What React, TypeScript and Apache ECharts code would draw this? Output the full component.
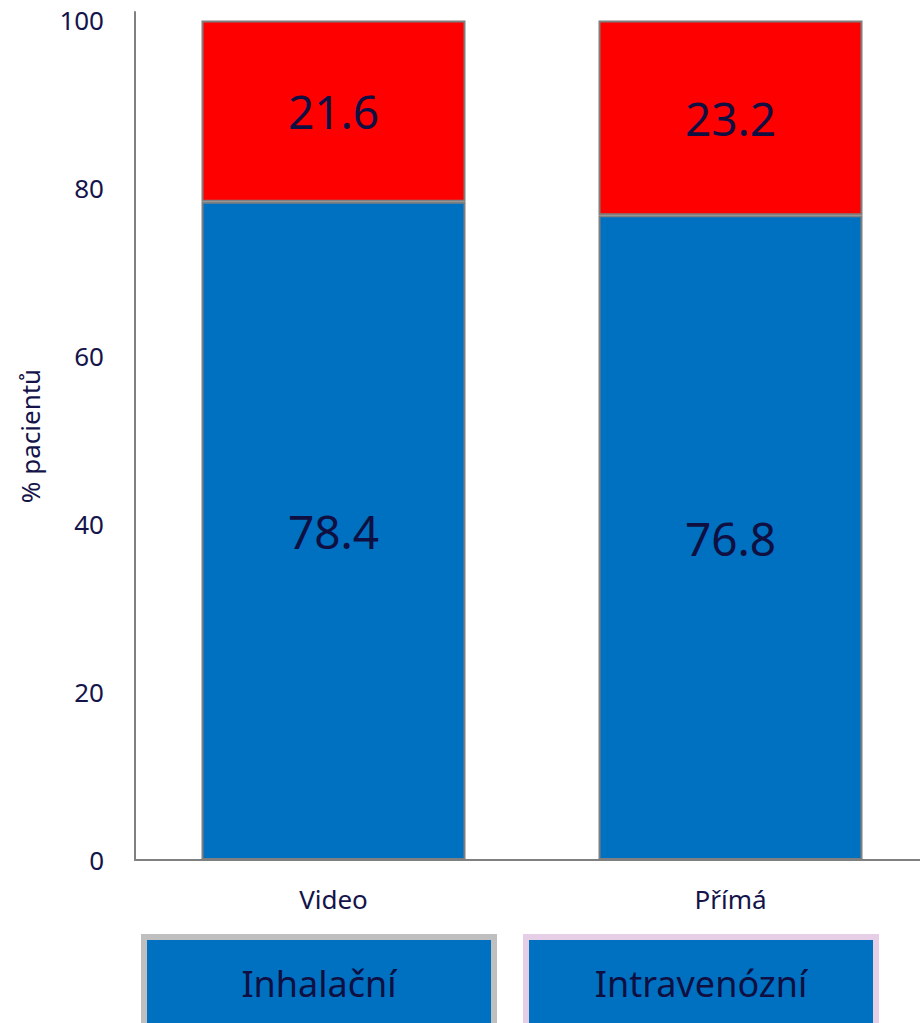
import React, { useEffect, useRef } from "react";
import * as echarts from "echarts";

const categories = ["Video", "Přímá"];
const inhalacni = [78.4, 76.8];
const intravenozni = [21.6, 23.2];
const yTicks = [0, 20, 40, 60, 80, 100];
const legendNames = ["Inhalační", "Intravenózní"];

const FONT = "'Noto Sans', 'Open Sans', sans-serif";
const TXT = "#14144a";

export default function App() {
  const ref = useRef<HTMLDivElement>(null);
  useEffect(() => {
    if (!ref.current) return;
    const chart = echarts.init(ref.current, null, { renderer: "svg" });
    const label = {
      show: true,
      position: "inside" as const,
      fontSize: 46,
      color: "#0f0f42",
      fontFamily: FONT,
      formatter: (p: any) => p.value.toFixed(1),
    };
    chart.setOption({
      animation: false,
      grid: { left: 135, right: 0, top: 12, bottom: 163 },
      xAxis: {
        type: "category",
        data: categories,
        axisLine: { lineStyle: { color: "#808080", width: 2 } },
        axisTick: { show: false },
        axisLabel: { fontSize: 26, color: TXT, fontFamily: FONT, margin: 26 },
      },
      yAxis: {
        type: "value",
        min: 0,
        max: 101,
        interval: 20,
        name: "% pacientů",
        nameLocation: "middle",
        nameGap: 92,
        nameRotate: 90,
        nameTextStyle: { fontSize: 26, color: TXT, fontFamily: FONT },
        axisLine: { show: true, lineStyle: { color: "#808080", width: 2 } },
        axisTick: { show: false },
        splitLine: { show: false },
        axisLabel: {
          fontSize: 26,
          color: TXT,
          fontFamily: FONT,
          margin: 31,
          formatter: (v: number) => (yTicks.includes(v) ? String(v) : ""),
        },
      },
      series: [
        {
          name: legendNames[0],
          type: "bar",
          stack: "s",
          data: inhalacni,
          barCategoryGap: "33.5%",
          itemStyle: { color: "#0070C0", borderColor: "#7f7f7f", borderWidth: 2 },
          label,
        },
        {
          name: legendNames[1],
          type: "bar",
          stack: "s",
          data: intravenozni,
          itemStyle: { color: "#FF0000", borderColor: "#7f7f7f", borderWidth: 2 },
          label,
        },
      ],
      graphic: [
        {
          type: "rect",
          shape: { x: 144, y: 937, width: 350, height: 100 },
          style: { fill: "#0070C0", stroke: "#bfbfbf", lineWidth: 6 },
        },
        {
          type: "text",
          x: 319,
          y: 983,
          style: {
            text: legendNames[0],
            fontSize: 36,
            fill: "#0f0f42",
            fontFamily: FONT,
            align: "center",
            verticalAlign: "middle",
          },
        },
        {
          type: "rect",
          shape: { x: 526, y: 937, width: 350, height: 100 },
          style: { fill: "#0070C0", stroke: "#e6cfe6", lineWidth: 6 },
        },
        {
          type: "text",
          x: 701,
          y: 983,
          style: {
            text: legendNames[1],
            fontSize: 36,
            fill: "#0f0f42",
            fontFamily: FONT,
            align: "center",
            verticalAlign: "middle",
          },
        },
      ],
    });
    return () => chart.dispose();
  }, []);
  return (
    <div style={{ width: 920, height: 1023, position: "absolute", left: 0, top: 0, overflow: "hidden" }}>
      <div ref={ref} style={{ width: 929, height: 1023 }} />
    </div>
  );
}
